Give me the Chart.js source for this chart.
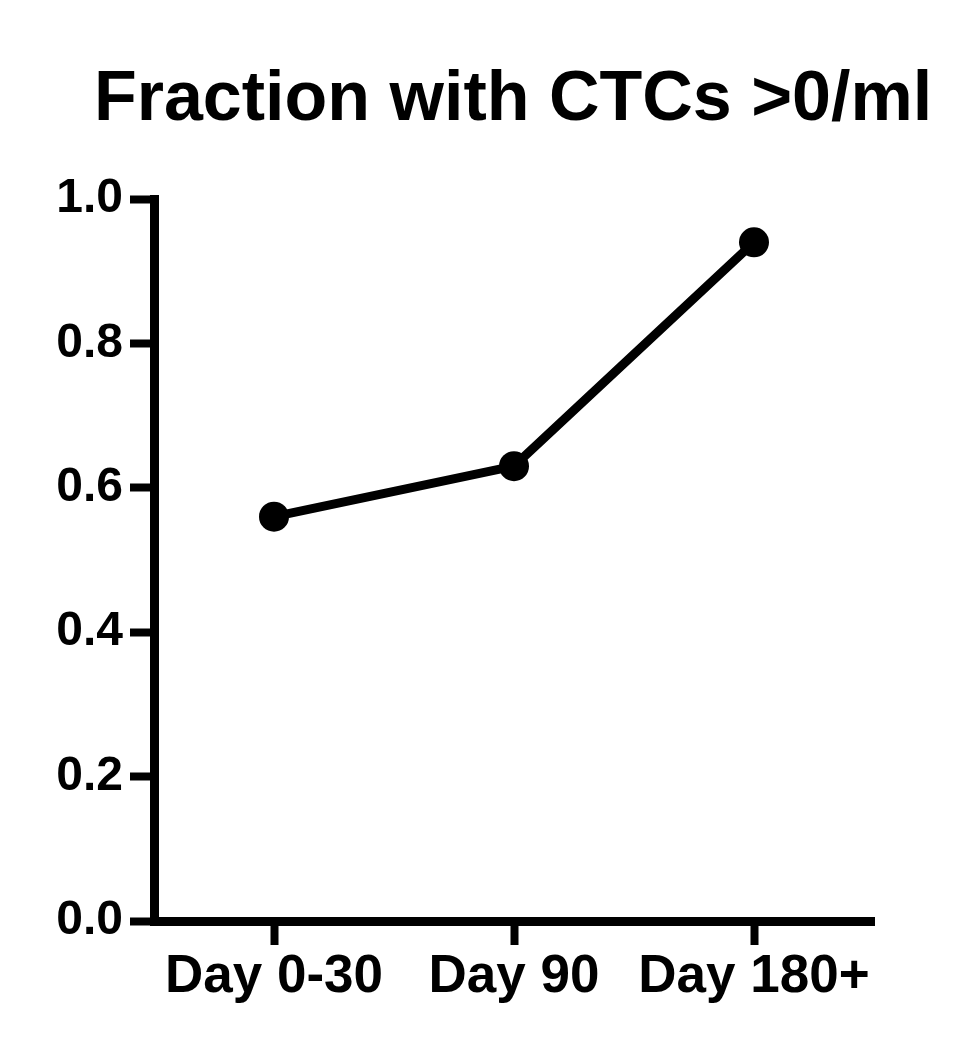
<!DOCTYPE html>
<html>
<head>
<meta charset="utf-8">
<script src="https://cdn.jsdelivr.net/npm/chart.js@4.4.0/dist/chart.umd.min.js"></script>
<style>
  html, body { margin: 0; padding: 0; background: #ffffff; }
  #wrap { width: 969px; height: 1050px; }
</style>
</head>
<body>
<div id="wrap"><canvas id="c" width="969" height="1050"></canvas></div>
<script>
const titleText = "Fraction with CTCs >0/ml";
const categories = ["Day 0-30", "Day 90", "Day 180+"];
const fractionValues = [0.56, 0.63, 0.94];
const yMin = 0;
const yMax = 1.0;
const yStep = 0.2;

const FONT = "'Liberation Sans', Arial, Helvetica, sans-serif";

const titlePlugin = {
  id: 'customTitle',
  afterDraw(chart) {
    const ctx = chart.ctx;
    ctx.save();
    ctx.fillStyle = '#000000';
    ctx.font = "bold 70px " + FONT;
    ctx.textAlign = 'center';
    ctx.textBaseline = 'alphabetic';
    ctx.fillText(titleText, 513, 120);
    ctx.restore();
  }
};

new Chart(document.getElementById('c'), {
  type: 'line',
  data: {
    labels: categories,
    datasets: [{
      data: fractionValues,
      borderColor: '#000000',
      backgroundColor: '#000000',
      borderWidth: 9,
      pointRadius: 15,
      pointHoverRadius: 15,
      pointBackgroundColor: '#000000',
      pointBorderColor: '#000000',
      pointBorderWidth: 0,
      tension: 0,
      fill: false
    }]
  },
  plugins: [titlePlugin],
  options: {
    responsive: false,
    animation: false,
    devicePixelRatio: 1,
    layout: { padding: { left: 0, right: 95, top: 199, bottom: 0 } },
    plugins: {
      legend: { display: false },
      tooltip: { enabled: false },
      title: { display: false }
    },
    scales: {
      x: {
        type: 'category',
        offset: true,
        afterFit: (s) => { s.height = 129; },
        border: { display: true, color: '#000000', width: 9 },
        grid: {
          display: true,
          offset: false,
          drawOnChartArea: false,
          drawTicks: true,
          tickLength: 24,
          tickWidth: 8,
          tickColor: '#000000',
          color: '#000000'
        },
        ticks: {
          color: '#000000',
          maxRotation: 0,
          minRotation: 0,
          padding: 1,
          font: { family: FONT, size: 53, weight: 'bold' }
        }
      },
      y: {
        min: yMin,
        max: yMax,
        afterFit: (s) => { s.width = 154; },
        border: { display: true, color: '#000000', width: 9 },
        grid: {
          display: true,
          drawOnChartArea: false,
          drawTicks: true,
          tickLength: 24,
          tickWidth: 8,
          tickColor: '#000000',
          color: '#000000'
        },
        ticks: {
          stepSize: yStep,
          color: '#000000',
          padding: 7,
          font: { family: FONT, size: 48, weight: 'bold' },
          callback: (v) => Number(v).toFixed(1)
        }
      }
    }
  }
});
</script>
</body>
</html>
